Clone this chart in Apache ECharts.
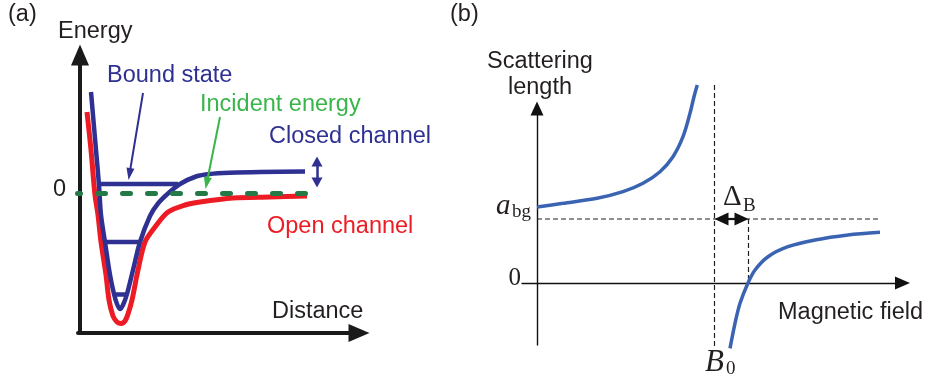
<!DOCTYPE html>
<html><head><meta charset="utf-8">
<script src="https://cdn.jsdelivr.net/npm/echarts@6/dist/echarts.min.js"></script>
<style>html,body{margin:0;padding:0;background:#fff}#c{width:929px;height:385px}</style>
</head><body><div id="c"></div>
<script>
// ---------- Panel (a): x = distance, y = energy (arbitrary units, 0 = incident energy) ----------
const openChannel = [[0.7, 8.15], [1.1, 4.35], [1.5, -0.15], [1.8, -2.15], [2.1, -4.85], [2.6, -8.15], [2.9, -10.65], [3.3, -12.25], [3.7, -12.85], [4.1, -13.0], [4.5, -12.75], [4.8, -12.05], [5.2, -10.65], [5.8, -7.65], [6.5, -4.85], [7.5, -3.35], [8.8, -1.85], [10.5, -1.15], [12.0, -0.85], [15.3, -0.45], [19.0, -0.35], [22.7, -0.25]];
const closedChannel = [[1.1, 10.15], [1.6, 4.35], [1.9, 0.85], [2.1, -2.15], [2.5, -4.85], [3.0, -8.15], [3.4, -10.05], [3.7, -11.05], [4.0, -11.55], [4.3, -11.15], [4.7, -10.05], [5.3, -7.65], [6.0, -4.85], [7.0, -2.25], [7.8, -1.0], [8.8, 0.0], [10.0, 0.95], [11.6, 1.7], [13.0, 1.95], [15.0, 2.07], [18.0, 2.15], [22.5, 2.2]];
const boundStateEnergies = [0.95, -4.85, -10.1];
const boundStateRanges = [[1.8, 9.8], [2.5, 6.0], [3.4, 4.8]];
const incidentEnergy = 0;
const incidentRange = [-0.25, 22.7];
const boundArrow = [[6.3, 10.05], [4.95, 1.95]];
const incidentArrow = [[14.0, 7.65], [12.67, 1.03]];
const detuningArrow = [[23.7, 3.2], [23.7, 1.1]];
const distanceExtent = [-0.2, 27.9];
const energyExtent = [-13.95, 13.85];

// ---------- Panel (b): x = magnetic field, y = scattering length ----------
const belowResonance = [[0, 7.6], [2.6, 7.97], [6.0, 8.47], [8.6, 9.13], [10.6, 9.97], [12.3, 11.13], [13.6, 12.63], [14.6, 14.63], [15.3, 16.97], [15.7, 18.63], [16.03, 19.8]];
const aboveResonance = [[19.3, -6.53], [19.8, -4.03], [20.3, -2.03], [21.1, 0], [21.8, 1.3], [23.1, 2.63], [25.1, 3.63], [27.8, 4.3], [31.1, 4.8], [34.3, 5.07]];
const aBg = 6.4;
const aBgRange = [0, 34.1];
const B0 = 17.75;
const B0Range = [19.8, -6.4];
const deltaB = 3.4;
const deltaArrow = [18.45, 20.45];
const fieldExtent = [-1.5, 36.55];
const scatExtent = [-6.2, 17.45];

// ---------- labels ----------
const labelsA = { panel: '(a)', y: 'Energy', x: 'Distance', zero: '0', bound: 'Bound state', incident: 'Incident energy', closed: 'Closed channel', open: 'Open channel' };
const labelsB = { panel: '(b)', y1: 'Scattering', y2: 'length', x: 'Magnetic field', zero: '0', abgMain: 'a', abgSub: 'bg', deltaMain: 'Δ', deltaSub: 'B', b0Main: 'B', b0Sub: '0' };

const SANS = "'Liberation Sans', Arial, Helvetica, sans-serif";
const SERIF = "'Liberation Serif', 'DejaVu Serif', serif";
const BLUE_A = '#2e3192', RED = '#ed1c24', GREEN = '#39b54a', DKGREEN = '#237a46', BLUE_B = '#3a63b2', INK = '#231f20';

function line(data, opts) {
  return Object.assign({ type: 'line', data: data, symbol: 'none', showSymbol: false, silent: true, animation: false, clip: false, emphasis: { disabled: true } }, opts);
}
function txt(x, y, text, font, fill, align) {
  return { type: 'text', x: x, y: y, silent: true, z: 10,
    style: { text: text, font: font, fill: fill, align: align || 'left', textAlign: align || 'left', verticalAlign: 'middle', textVerticalAlign: 'middle' } };
}
function hideAxisParts(o) {
  return Object.assign({ type: 'value', axisTick: { show: false }, axisLabel: { show: false }, splitLine: { show: false } }, o);
}

const series = [];
// panel a
series.push(line(openChannel, { xAxisIndex: 0, yAxisIndex: 0, smooth: 0.3, z: 2, lineStyle: { color: RED, width: 5 } }));
series.push(line(closedChannel, { xAxisIndex: 0, yAxisIndex: 0, smooth: 0.3, z: 3, lineStyle: { color: BLUE_A, width: 4.5 } }));
boundStateEnergies.forEach(function (e, i) {
  series.push(line([[boundStateRanges[i][0], e], [boundStateRanges[i][1], e]], { xAxisIndex: 0, yAxisIndex: 0, z: 3, lineStyle: { color: BLUE_A, width: 4.5 } }));
});
series.push(line([[incidentRange[0], incidentEnergy], [incidentRange[1], incidentEnergy]], {
  xAxisIndex: 0, yAxisIndex: 0, z: 4,
  lineStyle: { color: DKGREEN, width: 5, type: [8, 17], dashOffset: 5, cap: 'round' },
  markLine: {
    silent: true, animation: false, label: { show: false }, emphasis: { disabled: true },
    data: [
      [{ coord: boundArrow[0], symbol: 'none', lineStyle: { color: BLUE_A, width: 2, type: 'solid', curveness: 0.1 } },
       { coord: boundArrow[1], symbol: 'triangle', symbolSize: [8, 12] }],
      [{ coord: incidentArrow[0], symbol: 'none', lineStyle: { color: GREEN, width: 2, type: 'solid', curveness: 0.1 } },
       { coord: incidentArrow[1], symbol: 'triangle', symbolSize: [8, 12] }],
      [{ coord: detuningArrow[0], symbol: 'triangle', symbolSize: [11, 10], lineStyle: { color: BLUE_A, width: 2.5, type: 'solid', curveness: 0 } },
       { coord: detuningArrow[1], symbol: 'triangle', symbolSize: [11, 10] }]
    ]
  }
}));
// panel b
const dash = { color: '#222', width: 1.2, type: [5, 3] };
series.push(line([[aBgRange[0], aBg], [aBgRange[1], aBg]], {
  xAxisIndex: 1, yAxisIndex: 1, z: 2, lineStyle: dash,
  markLine: {
    silent: true, animation: false, label: { show: false }, emphasis: { disabled: true },
    data: [
      [{ coord: [deltaArrow[0], aBg], symbol: 'triangle', symbolSize: [13, 14], lineStyle: { color: '#111', width: 2.2, type: 'solid' } },
       { coord: [deltaArrow[1], aBg], symbol: 'triangle', symbolSize: [13, 14] }]
    ]
  }
}));
series.push(line([[B0, B0Range[0]], [B0, B0Range[1]]], { xAxisIndex: 1, yAxisIndex: 1, z: 2, lineStyle: dash }));
series.push(line([[B0 + deltaB, aBg], [B0 + deltaB, 0]], { xAxisIndex: 1, yAxisIndex: 1, z: 2, lineStyle: dash }));
series.push(line(belowResonance, { xAxisIndex: 1, yAxisIndex: 1, smooth: 0.3, z: 3, lineStyle: { color: BLUE_B, width: 3.5 } }));
series.push(line(aboveResonance, { xAxisIndex: 1, yAxisIndex: 1, smooth: 0.3, z: 3, lineStyle: { color: BLUE_B, width: 3.5 } }));

const fS = '23.5px ' + SANS;
const graphic = [
  txt(8, 15, labelsA.panel, fS, INK),
  txt(58, 32, labelsA.y, fS, INK),
  txt(272, 311.5, labelsA.x, fS, INK),
  txt(66, 190, labelsA.zero, fS, INK, 'right'),
  txt(107, 76, labelsA.bound, fS, BLUE_A),
  txt(200, 105, labelsA.incident, fS, GREEN),
  txt(269, 136.5, labelsA.closed, fS, BLUE_A),
  txt(267, 226.5, labelsA.open, fS, RED),
  txt(450, 15, labelsB.panel, fS, INK),
  txt(540, 62, labelsB.y1, fS, INK, 'center'),
  txt(540, 88, labelsB.y2, fS, INK, 'center'),
  txt(778, 312.5, labelsB.x, fS, INK),
  txt(521, 278.6, labelsB.zero, '25px ' + SERIF, INK, 'right'),
  txt(496, 206.5, labelsB.abgMain, 'italic 29px ' + SERIF, INK),
  txt(512, 212, labelsB.abgSub, '19px ' + SERIF, INK),
  txt(723, 197.5, labelsB.deltaMain, '29px ' + SERIF, INK),
  txt(743, 205.6, labelsB.deltaSub, '19px ' + SERIF, INK),
  txt(705, 362.5, labelsB.b0Main, 'italic 31px ' + SERIF, INK),
  txt(726, 368.6, labelsB.b0Sub, '19px ' + SERIF, INK)
];

const chart = echarts.init(document.getElementById('c'), null, { renderer: 'canvas' });
chart.setOption({
  animation: false,
  backgroundColor: '#ffffff',
  grid: [
    { left: 78, top: 55, width: 281, height: 278 },
    { left: 522, top: 108.5, width: 380.5, height: 236.5 }
  ],
  xAxis: [
    hideAxisParts({ gridIndex: 0, min: distanceExtent[0], max: distanceExtent[1],
      axisLine: { onZero: false, symbol: ['none', 'triangle'], symbolSize: [18, 21], lineStyle: { color: '#1a1a1a', width: 4 } } }),
    hideAxisParts({ gridIndex: 1, min: fieldExtent[0], max: fieldExtent[1],
      axisLine: { onZero: true, symbol: ['none', 'triangle'], symbolSize: [13, 15], lineStyle: { color: '#111', width: 1.4 } } })
  ],
  yAxis: [
    hideAxisParts({ gridIndex: 0, min: energyExtent[0], max: energyExtent[1],
      axisLine: { onZero: true, symbol: ['none', 'triangle'], symbolSize: [18, 21], lineStyle: { color: '#1a1a1a', width: 4 } } }),
    hideAxisParts({ gridIndex: 1, min: scatExtent[0], max: scatExtent[1],
      axisLine: { onZero: true, symbol: ['none', 'triangle'], symbolSize: [13, 14], lineStyle: { color: '#111', width: 1.4 } } })
  ],
  series: series,
  graphic: graphic
});
</script></body></html>
